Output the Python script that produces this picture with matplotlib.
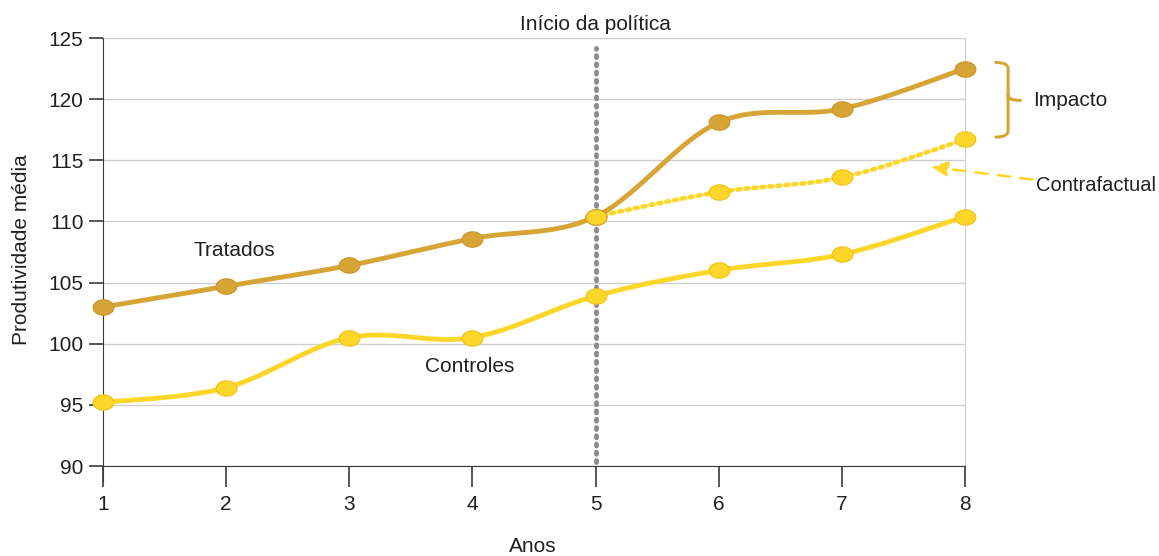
import numpy as np
import matplotlib.pyplot as plt
from matplotlib.path import Path
from matplotlib.patches import PathPatch

# data
anos = [1, 2, 3, 4, 5, 6, 7, 8]
tratados = [103.0, 104.7, 106.4, 108.6, 110.4, 118.1, 119.2, 122.5]
controles = [95.2, 96.4, 100.5, 100.5, 103.9, 106.0, 107.3, 110.4]
anos_cf = [5, 6, 7, 8]
contrafactual = [110.4, 112.4, 113.6, 116.7]

COR_TRAT = "#D6A536"
COR_CTRL = "#FDD62A"
COR_TXT = "#231F20"
FS = 15

plt.rcParams['font.family'] = ['Liberation Sans', 'DejaVu Sans']


def suave(x, y, n=30):
    # Excel-style smoothed line (Catmull-Rom through the points)
    x = np.asarray(x, float)
    y = np.asarray(y, float)
    p = np.column_stack([x, y])
    pts = [p[0]]
    for i in range(len(p) - 1):
        p0 = p[i - 1] if i > 0 else p[i]
        p3 = p[i + 2] if i + 2 < len(p) else p[i + 1]
        p1, p2 = p[i], p[i + 1]
        c1 = p1 + (p2 - p0) / 6
        c2 = p2 - (p3 - p1) / 6
        t = np.linspace(0, 1, n)[1:, None]
        b = ((1 - t) ** 3) * p1 + 3 * ((1 - t) ** 2) * t * c1 + 3 * (1 - t) * t ** 2 * c2 + t ** 3 * p2
        pts.extend(b)
    pts = np.array(pts)
    return pts[:, 0], pts[:, 1]


# elliptical marker, wider than tall
th = np.linspace(0, 2 * np.pi, 40)
elipse = Path(np.column_stack([1.35 * np.cos(th), np.sin(th)]))

fig = plt.figure(figsize=(11.59, 5.56), dpi=100)
ax = fig.add_axes([103 / 1159, 1 - 466 / 556, (965 - 103) / 1159, (466 - 38) / 556])

ax.set_xlim(1, 8)
ax.set_ylim(90, 125)
ax.set_yticks(range(90, 126, 5))
ax.set_xticks(anos)
ax.grid(axis='y', color='#CFCFCF', lw=1)
ax.set_axisbelow(True)

ax.spines['top'].set_visible(False)
ax.spines['right'].set_color('#CFCFCF')
ax.spines['left'].set_color('#3A3A3A')
ax.spines['bottom'].set_color('#3A3A3A')
ax.spines['left'].set_bounds(88.8, 125)
ax.tick_params(axis='y', direction='out', length=10, width=1.2, colors='#3A3A3A',
               labelcolor=COR_TXT, labelsize=FS, pad=4)
ax.tick_params(axis='x', direction='out', length=15, width=1.2, colors='#3A3A3A',
               labelcolor=COR_TXT, labelsize=FS, pad=6)

# policy start
ax.plot([5, 5], [90.3, 124.2], color='#8C8C8C', lw=3.5, ls=(0, (0.4, 1.3)),
        dash_capstyle='round', zorder=2)

mk = dict(ls='none', marker=elipse, ms=15, mew=0.8, clip_on=False)

xs, ys = suave(anos_cf, contrafactual)
ax.plot(xs, ys, color=COR_CTRL, lw=3.4, ls=(0, (0.6, 1.1)), dash_capstyle='round', zorder=3)
ax.plot(anos_cf, contrafactual, color=COR_CTRL, mec='#F2C21A', zorder=4, **mk)

xs, ys = suave(anos, controles)
ax.plot(xs, ys, color=COR_CTRL, lw=3.5, zorder=3, solid_capstyle='round')
ax.plot(anos, controles, color=COR_CTRL, mec='#F2C21A', zorder=4, **mk)

xs, ys = suave(anos, tratados)
ax.plot(xs, ys, color=COR_TRAT, lw=3.5, zorder=5, solid_capstyle='round')
ax.plot(anos, tratados, color=COR_TRAT, mec='#C9952A', zorder=6, **mk)
# point 5 shared with counterfactual is drawn yellow
ax.plot([5], [tratados[4]], color=COR_CTRL, mec='#D6A536', zorder=7, **mk)

ax.text(2.07, 107.6, 'Tratados', fontsize=FS, color=COR_TXT, ha='center', va='center')
ax.text(3.98, 98.1, 'Controles', fontsize=FS, color=COR_TXT, ha='center', va='center')
ax.text(5.0, 126.1, 'Início da política', fontsize=FS, color=COR_TXT, ha='center',
        va='center', clip_on=False)

# impact brace
x0, x1, x2 = 8.25, 8.35, 8.45
yt, ym, yb = 123.0, 119.9, 116.9
verts = [(x0, yt), (x1, yt), (x1, yt - 0.5), (x1, ym + 0.4), (x1, ym), (x2, ym),
         (x1, ym), (x1, ym - 0.4), (x1, yb + 0.5), (x1, yb), (x0, yb)]
codes = [Path.MOVETO, Path.CURVE3, Path.CURVE3, Path.LINETO, Path.CURVE3, Path.CURVE3,
         Path.MOVETO, Path.CURVE3, Path.LINETO, Path.CURVE3, Path.CURVE3]
codes = [Path.MOVETO, Path.CURVE3, Path.CURVE3, Path.LINETO, Path.CURVE3, Path.CURVE3,
         Path.MOVETO, Path.LINETO, Path.LINETO, Path.CURVE3, Path.CURVE3]
verts[6] = (x1, ym + 0.4)
verts[7] = (x1, ym - 0.4)
ax.add_patch(PathPatch(Path(verts, codes), fill=False, ec=COR_TRAT, lw=2.2,
                       clip_on=False, capstyle='round', joinstyle='round'))
ax.text(8.55, 119.9, 'Impacto', fontsize=FS, color=COR_TXT, va='center', clip_on=False)

# counterfactual arrow
ax.annotate('', xy=(7.7, 114.5), xytext=(8.57, 113.4),
            arrowprops=dict(arrowstyle='-|>,head_length=1.0,head_width=0.45',
                            color=COR_CTRL, lw=1.8, ls=(0, (5, 4))),
            annotation_clip=False)
fig.text(1156 / 1159, 1 - 186 / 556, 'Contrafactual', fontsize=FS - 0.5, color=COR_TXT,
         ha='right', va='center')

fig.text(22 / 1159, 1 - 250 / 556, 'Produtividade média', rotation=90, fontsize=FS,
         color=COR_TXT, ha='center', va='center')
fig.text(533 / 1159, 1 - 546 / 556, 'Anos', fontsize=FS, color=COR_TXT,
         ha='center', va='center')

fig.savefig('out.png', dpi=100)
